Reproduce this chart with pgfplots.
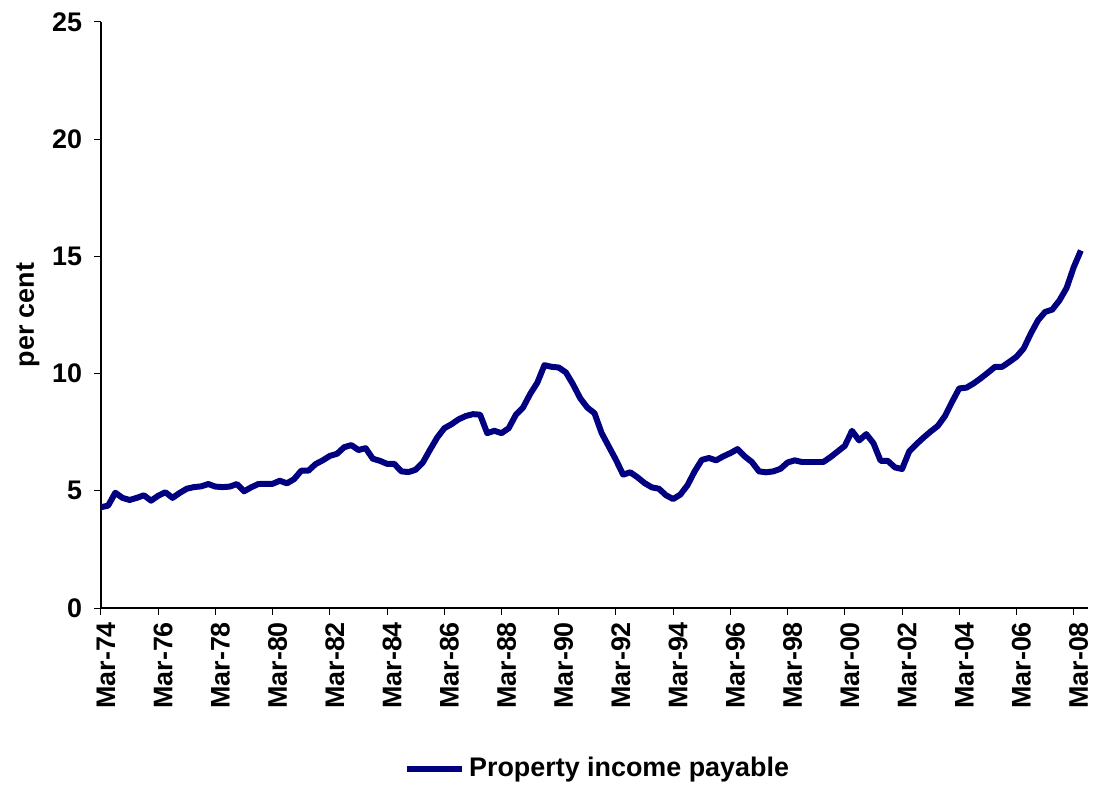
\documentclass[border=0pt]{standalone}
\usepackage{pgfplots}
\pgfplotsset{compat=1.18}
\usepackage{fontspec}
\setmainfont{Liberation Sans}
\definecolor{navy}{RGB}{0,0,128}
\pgfplotstableread{
q v
0 4.30
1 4.37
2 4.92
3 4.70
4 4.61
5 4.70
6 4.81
7 4.58
8 4.79
9 4.94
10 4.70
11 4.91
12 5.09
13 5.16
14 5.19
15 5.29
16 5.18
17 5.16
18 5.18
19 5.29
20 4.98
21 5.15
22 5.29
23 5.30
24 5.30
25 5.43
26 5.32
27 5.50
28 5.86
29 5.86
30 6.14
31 6.30
32 6.49
33 6.58
34 6.86
35 6.95
36 6.74
37 6.82
38 6.37
39 6.28
40 6.15
41 6.15
42 5.83
43 5.80
44 5.90
45 6.21
46 6.75
47 7.27
48 7.67
49 7.84
50 8.05
51 8.19
52 8.27
53 8.25
54 7.46
55 7.56
56 7.46
57 7.67
58 8.24
59 8.55
60 9.13
61 9.61
62 10.36
63 10.29
64 10.26
65 10.05
66 9.54
67 8.95
68 8.55
69 8.31
70 7.46
71 6.89
72 6.32
73 5.69
74 5.79
75 5.58
76 5.33
77 5.15
78 5.09
79 4.81
80 4.65
81 4.84
82 5.24
83 5.83
84 6.32
85 6.40
86 6.30
87 6.47
88 6.61
89 6.78
90 6.47
91 6.23
92 5.83
93 5.79
94 5.83
95 5.94
96 6.21
97 6.30
98 6.23
99 6.23
100 6.23
101 6.23
102 6.44
103 6.68
104 6.92
105 7.56
106 7.15
107 7.42
108 7.03
109 6.28
110 6.28
111 6.00
112 5.93
113 6.68
114 6.99
115 7.27
116 7.53
117 7.77
118 8.19
119 8.80
120 9.37
121 9.40
122 9.58
123 9.80
124 10.04
125 10.29
126 10.29
127 10.50
128 10.72
129 11.07
130 11.71
131 12.27
132 12.63
133 12.73
134 13.12
135 13.65
136 14.54
137 15.25
}\datatable
\begin{document}
\begin{tikzpicture}
\useasboundingbox (-50.7pt,-88.75pt) rectangle (498pt,305.25pt);
\begin{axis}[
  anchor=origin,
  at={(0pt,0pt)},
  scale only axis,
  width=495.5pt,
  height=294.25pt,
  xmin=0, xmax=138,
  ymin=0, ymax=25,
  axis lines=left,
  axis line style={-, black, line width=0.6pt},
  tick align=outside,
  major tick length=3.5pt,
  tick style={black, line width=0.5pt},
  xtick={0,8,...,136},
  xticklabels={Mar-74,Mar-76,Mar-78,Mar-80,Mar-82,Mar-84,Mar-86,Mar-88,Mar-90,Mar-92,Mar-94,Mar-96,Mar-98,Mar-00,Mar-02,Mar-04,Mar-06,Mar-08},
  ytick={0,5,...,25},
  /pgf/number format/assume math mode=true,
  tick label style={font=\bfseries\fontsize{13.5}{16}\selectfont},
  xticklabel style={rotate=90, anchor=east, yshift=-2.5pt},
  yticklabel style={xshift=-2.5pt},
  ylabel={per cent},
  ylabel style={font=\bfseries\fontsize{13.5}{16}\selectfont, at={(axis description cs:-0.074,0.5)}, anchor=center},
  legend style={at={(axis description cs:0.307,-0.274)}, anchor=west, draw=none, fill=none,
    font=\bfseries\fontsize{13.5}{16}\selectfont, inner sep=0pt},
  legend image code/.code={\draw[#1, line width=3pt] (0pt,0pt) -- (27.5pt,0pt);},
  legend cell align=left,
  clip=false,
]
\addplot[navy, line width=3pt, line join=round] table[x=q, y=v] {\datatable};
\addlegendentry{Property income payable}
\end{axis}
\end{tikzpicture}
\end{document}
